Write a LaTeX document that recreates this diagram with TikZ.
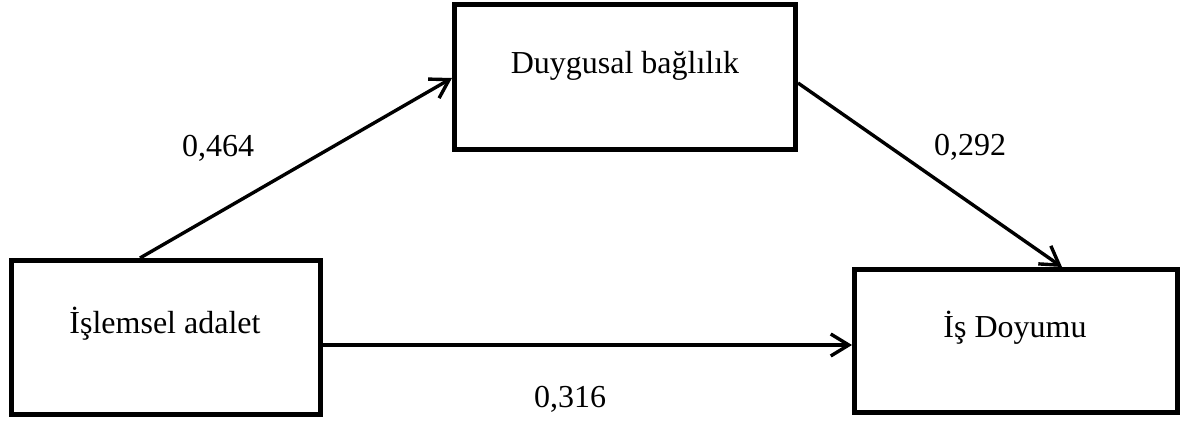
\documentclass[tikz,border=0pt]{standalone}
\usepackage{fontspec}
\setmainfont{Liberation Serif}
\usetikzlibrary{arrows.meta}
\usetikzlibrary{positioning}

\tikzset{
  box/.style={rectangle,draw=black,line width=2.5pt,inner sep=0pt},
  lbl/.style={font=\fontsize{16}{19}\selectfont,text=black,anchor=base,inner sep=0pt},
  arr/.style={draw=black,line width=1.7pt,-{Straight Barb[length=9pt,width=11pt,line width=1.7pt]}}
}

\begin{document}
\begin{tikzpicture}[x=0.5pt,y=-0.5pt]
\useasboundingbox (0,0) rectangle (1190,423);

\node[box,minimum width=154.5pt,minimum height=77pt] (isl) at (166,337.5) {};
\node[box,minimum width=170.5pt,minimum height=72.5pt] (dua) at (625,77) {};
\node[box,minimum width=161.5pt,minimum height=71.5pt] (isd) at (1016,341) {};

\node[lbl] (islt) at (165,333) {İşlemsel adalet};
\node[lbl] (duat) at (625,73) {Duygusal bağlılık};
\node[lbl] (isdt) at (1015,337) {İş Doyumu};

\draw[arr] ([xshift=-13pt]isl.north) -- ([yshift=-0.5pt]dua.west);
\draw[arr] ([yshift=-3pt]dua.east) -- ([xshift=23pt]isd.north);
\draw[arr] ([yshift=-3.75pt]isl.east) -- ([yshift=-3.75pt]isl.east -| isd.west);

\node[lbl] (a1) at (218,156) {0,464};
\node[lbl] (a2) at (970,155) {0,292};
\node[lbl] (a3) at (570,407) {0,316};

\end{tikzpicture}
\end{document}
